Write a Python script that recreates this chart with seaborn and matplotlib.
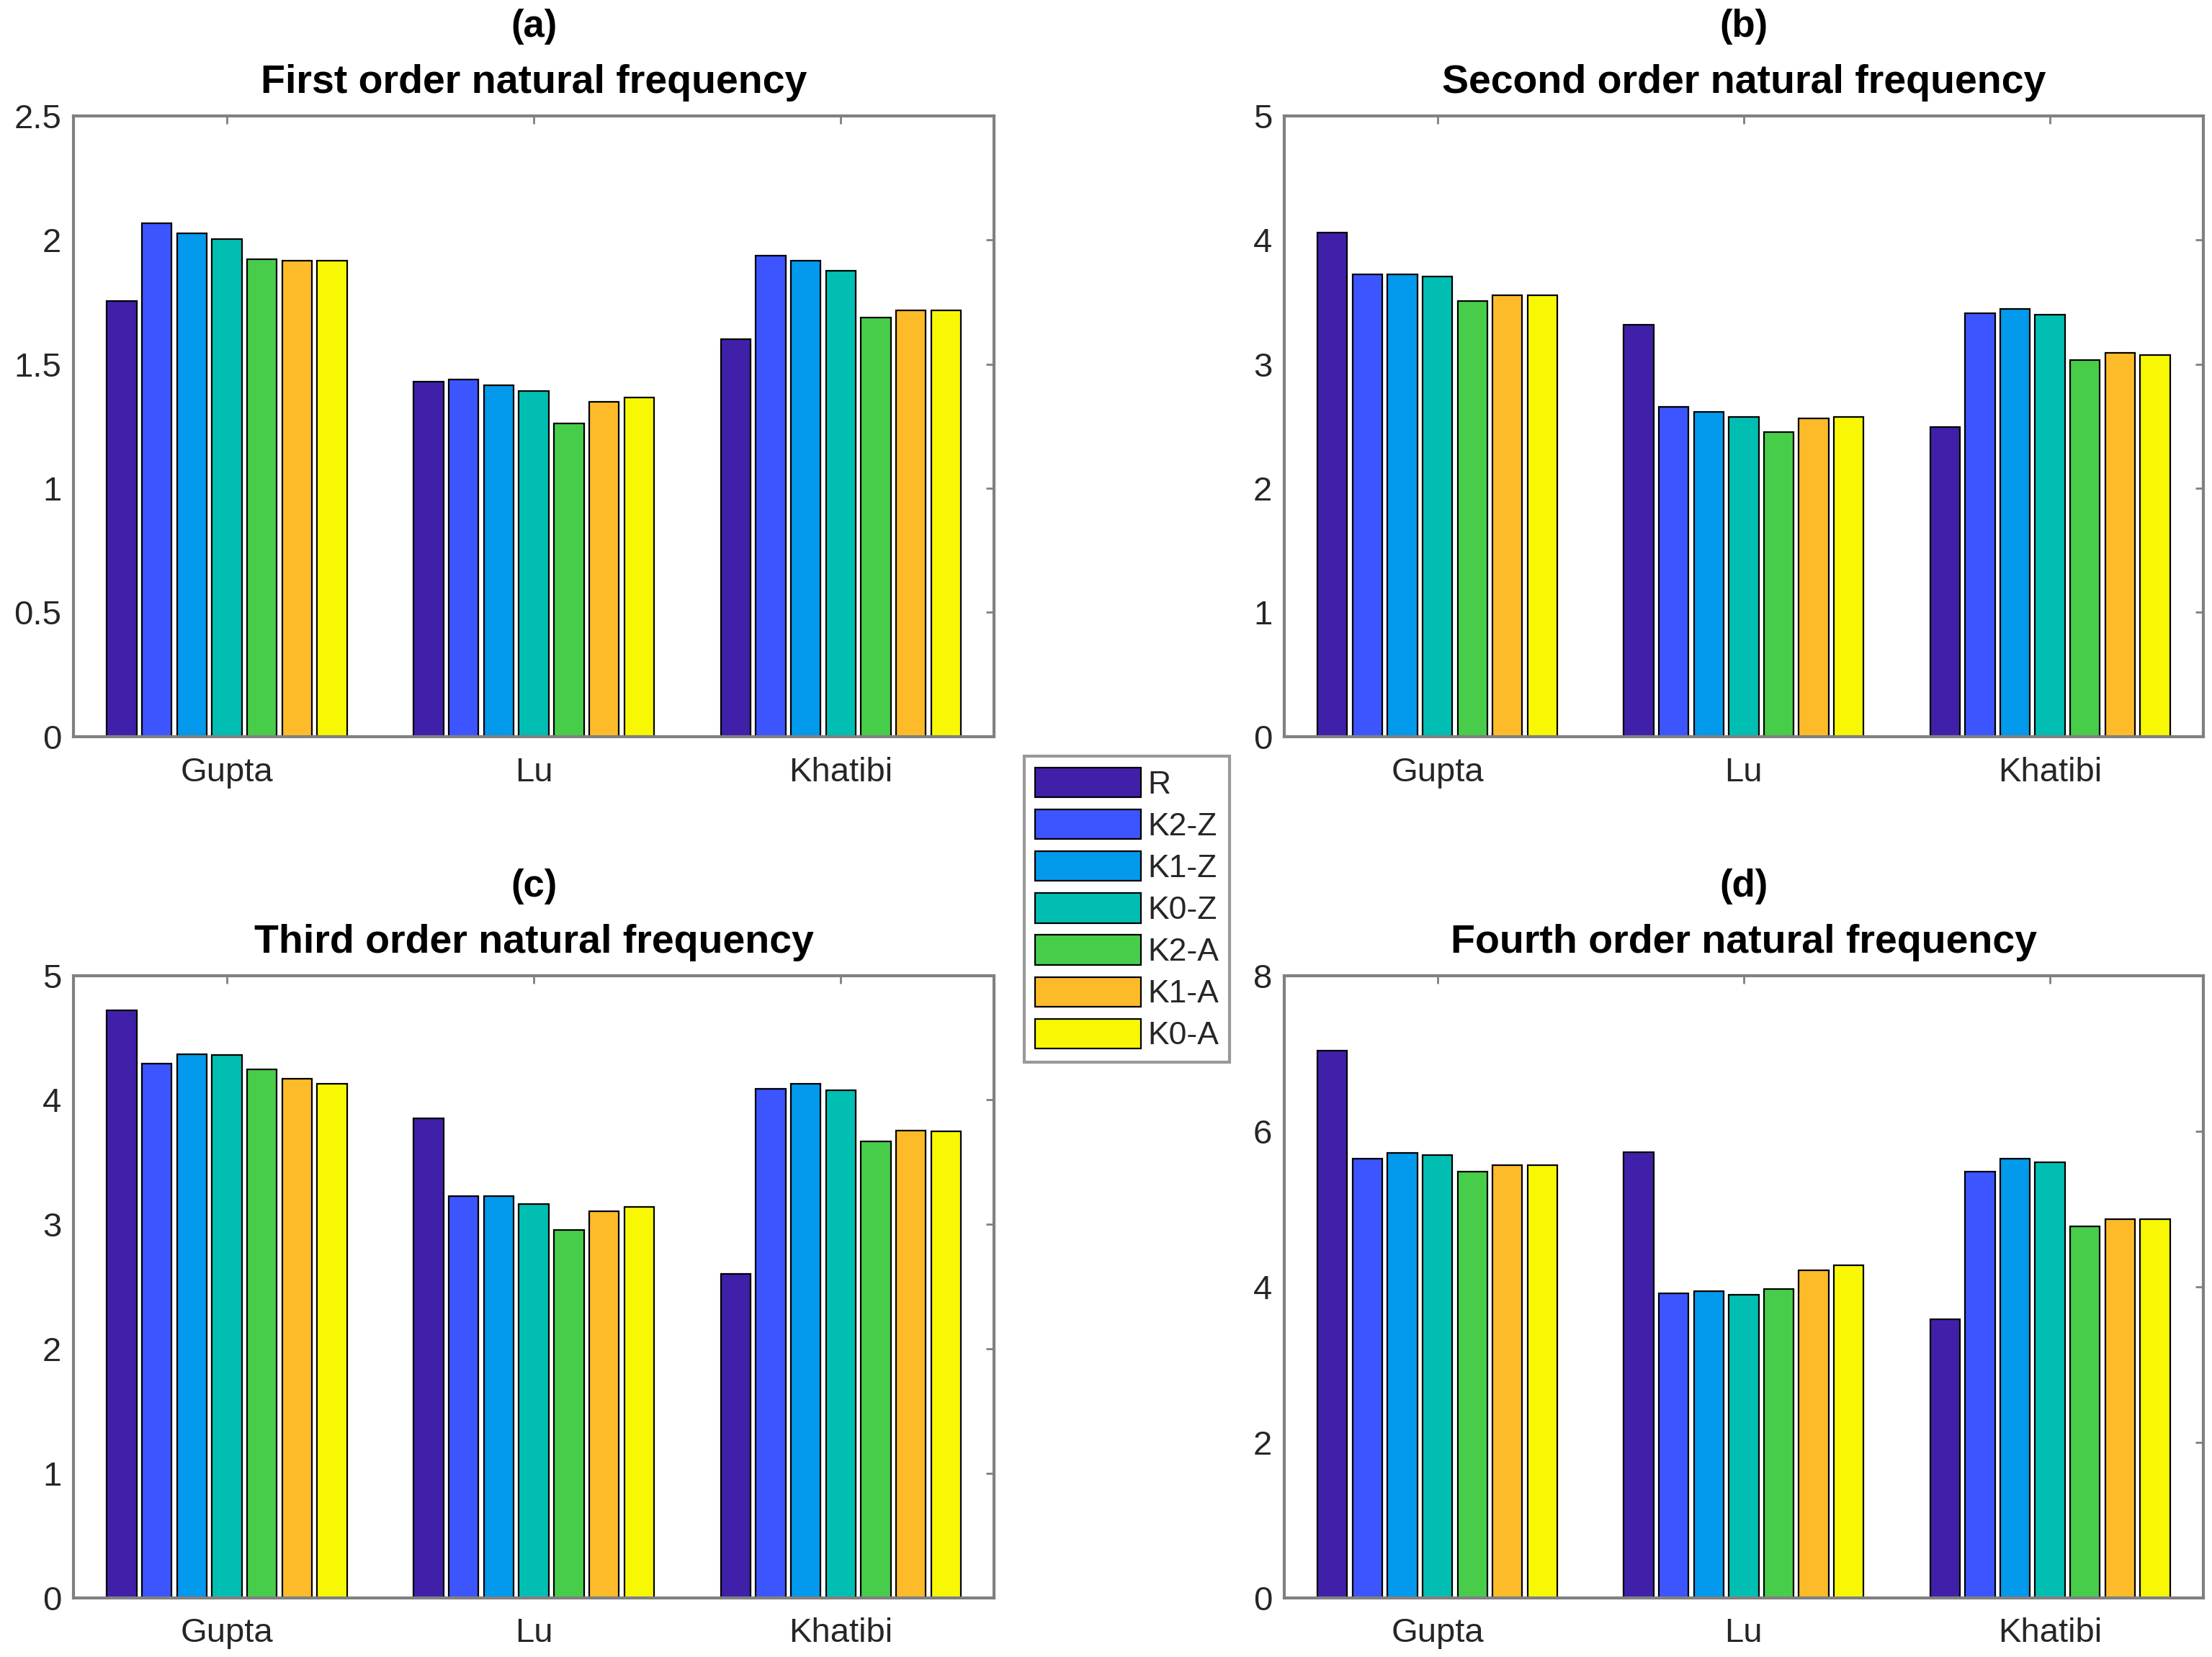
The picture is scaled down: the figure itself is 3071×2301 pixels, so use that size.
"""
plot.py
Grouped bar charts of the first four natural frequencies (matlab-like look).
"""
import matplotlib
matplotlib.use('Agg')
import numpy as np
import pandas as pd
import matplotlib.pyplot as plt
import seaborn as sns

# ---- data ----
groups = ['Gupta', 'Lu', 'Khatibi']
methods = ['R', 'K2-Z', 'K1-Z', 'K0-Z', 'K2-A', 'K1-A', 'K0-A']
colors = ['#4020A8', '#3C55FE', '#0399EC', '#00BFB2', '#48CD4B', '#FDBB2A', '#F8F805']

# rows: Gupta, Lu, Khatibi ; columns: methods
first_order = [
    [1.755, 2.068, 2.026, 2.003, 1.922, 1.918, 1.916],
    [1.429, 1.437, 1.415, 1.393, 1.262, 1.348, 1.366],
    [1.602, 1.938, 1.916, 1.877, 1.688, 1.718, 1.716],
]
second_order = [
    [4.063, 3.726, 3.726, 3.709, 3.510, 3.555, 3.555],
    [3.318, 2.655, 2.614, 2.573, 2.451, 2.565, 2.573],
    [2.492, 3.412, 3.445, 3.400, 3.033, 3.094, 3.074],
]
third_order = [
    [4.722, 4.291, 4.368, 4.363, 4.244, 4.171, 4.128],
    [3.850, 3.226, 3.226, 3.162, 2.953, 3.103, 3.141],
    [2.603, 4.090, 4.132, 4.077, 3.667, 3.752, 3.748],
]
fourth_order = [
    [7.030, 5.648, 5.723, 5.689, 5.477, 5.559, 5.559],
    [5.730, 3.911, 3.938, 3.897, 3.973, 4.205, 4.274],
    [3.583, 5.477, 5.648, 5.600, 4.773, 4.868, 4.868],
]

panel_letters = ['(a)', '(b)', '(c)', '(d)']
panel_titles = ['First order natural frequency', 'Second order natural frequency',
                'Third order natural frequency', 'Fourth order natural frequency']
panel_data = [first_order, second_order, third_order, fourth_order]
y_max = [2.5, 5, 5, 8]
y_step = [0.5, 1, 1, 2]


def to_long(values):
    rows = []
    for gi, g in enumerate(groups):
        for mi, m in enumerate(methods):
            rows.append({'group': g, 'method': m, 'value': values[gi][mi]})
    return pd.DataFrame(rows)


sns.set_style('white')
plt.rcParams['font.family'] = ['Liberation Sans', 'DejaVu Sans']

fig = plt.figure(figsize=(15.355, 11.505), dpi=200)
positions = [
    [0.0332, 0.5555, 0.4163, 0.3745],
    [0.5806, 0.5555, 0.4154, 0.3745],
    [0.0332, 0.0358, 0.4163, 0.3755],
    [0.5806, 0.0358, 0.4154, 0.3755],
]

axes = []
for i in range(4):
    ax = fig.add_axes(positions[i])
    df = to_long(panel_data[i])
    sns.barplot(data=df, x='group', y='value', hue='method', order=groups,
                hue_order=methods, palette=colors, saturation=1, errorbar=None,
                gap=0.15, edgecolor='black', linewidth=0.8, ax=ax,
                legend=(i == 0))
    ax.set_xlim(-0.5, 2.5)
    ax.set_ylim(0, y_max[i])
    ax.set_yticks(np.arange(0, y_max[i] + 1e-9, y_step[i]))
    ax.set_yticklabels(['%g' % t for t in ax.get_yticks()])
    ax.set_xlabel('')
    ax.set_ylabel('')
    for s in ax.spines.values():
        s.set_visible(True)
        s.set_color('#808080')
        s.set_linewidth(1.5)
    ax.tick_params(direction='in', top=True, right=True, color='#808080',
                   length=4, width=1, labelsize=17, labelcolor='#262626')
    ax.tick_params(axis='x', pad=10)
    ax.tick_params(axis='y', pad=6)
    ax.annotate(panel_titles[i], xy=(0.5, 1), xycoords='axes fraction',
                xytext=(0, 16.5), textcoords='offset points', ha='center',
                va='center', fontsize=20, fontweight='bold', color='black')
    ax.annotate(panel_letters[i], xy=(0.5, 1), xycoords='axes fraction',
                xytext=(0, 44.5), textcoords='offset points', ha='center',
                va='center', fontsize=19, fontweight='bold', color='black')
    axes.append(ax)

handles, labels = axes[0].get_legend_handles_labels()
axes[0].get_legend().remove()
leg = fig.legend(handles, labels, loc='upper left', bbox_to_anchor=(0.463, 0.5435),
                 fontsize=16, frameon=True, fancybox=False, handlelength=3.3,
                 handleheight=1.05, labelspacing=0.3, handletextpad=0.2,
                 borderpad=0.35, borderaxespad=0)
leg.get_frame().set_edgecolor('#808080')
leg.get_frame().set_linewidth(1.5)

plt.savefig('out.png', dpi=200)
